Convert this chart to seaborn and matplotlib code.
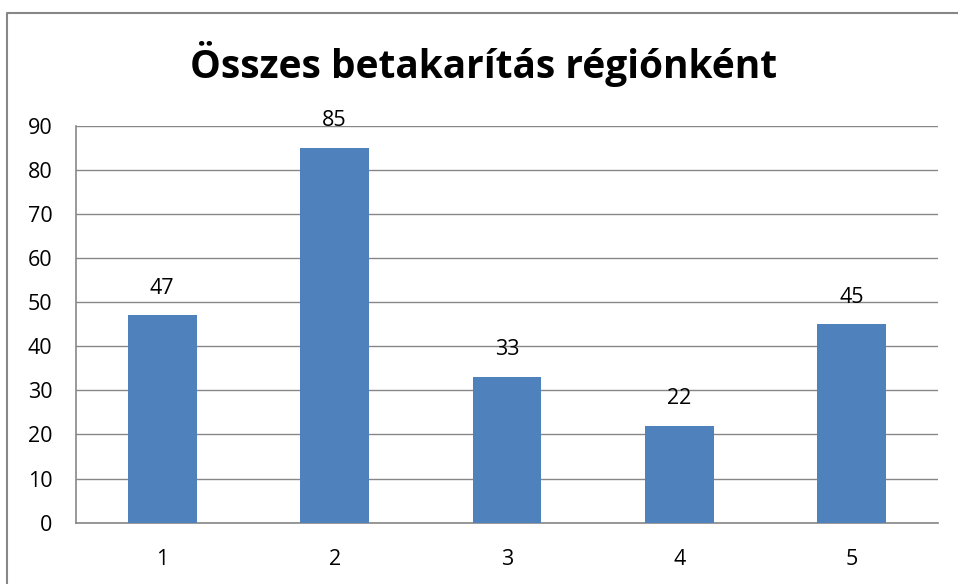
import matplotlib
matplotlib.use("Agg")
import matplotlib.pyplot as plt
import seaborn as sns
import pandas as pd
from matplotlib.lines import Line2D

# %% data
regions = ["1", "2", "3", "4", "5"]
totals = [47, 85, 33, 22, 45]
title = "Összes betakarítás régiónként"

df = pd.DataFrame({"regio": regions, "ossz": totals})

# %% plot
sns.set_style("white")
plt.rcParams["font.family"] = ["Open Sans", "DejaVu Sans"]
plt.rcParams["text.color"] = "black"
plt.rcParams["xtick.labelcolor"] = "black"
plt.rcParams["ytick.labelcolor"] = "black"

grey = "#878787"
fig = plt.figure(figsize=(9.58, 5.84), dpi=100)
ax = fig.add_axes([76 / 958, 1 - 522.7 / 584, 862 / 958, 397 / 584])

sns.barplot(data=df, x="regio", y="ossz", color="#4F81BD", saturation=1,
            width=0.4, linewidth=0, ax=ax, zorder=3)

ax.set_ylim(0, 90)
ax.set_yticks(range(0, 91, 10))
ax.set_xlim(-0.5, 4.5)
ax.yaxis.grid(True, color=grey, linewidth=1.0)
ax.set_axisbelow(True)
for s in ["top", "right"]:
    ax.spines[s].set_visible(False)
for s in ["left", "bottom"]:
    ax.spines[s].set_color(grey)
    ax.spines[s].set_linewidth(1.2)

# category boundaries get the tick marks, labels sit in the middle
ax.set_xticks([i - 0.5 for i in range(6)])
ax.set_xticklabels([])
ax.set_xticks(range(5), minor=True)
ax.set_xticklabels(regions, minor=True)
ax.tick_params(axis="x", which="major", direction="out", length=6, width=1.2, color=grey)
ax.tick_params(axis="x", which="minor", length=0, pad=19, labelsize=15.5, labelcolor="black")
ax.tick_params(axis="y", direction="out", length=6, width=1.2, color=grey, pad=11,
               labelsize=15.5, labelcolor="black")
ax.set_xlabel("")
ax.set_ylabel("")

ax.bar_label(ax.containers[0], labels=[str(v) for v in totals], padding=12,
             fontsize=15.5, color="black")

fig.text(484 / 958, 1 - 78 / 584, title, ha="center", va="baseline",
         fontsize=28, fontweight="bold", color="black")

# chart frame (only top and left edge visible)
fig.add_artist(Line2D([7 / 958, 7 / 958, 1], [0, 1 - 13 / 584, 1 - 13 / 584],
                      transform=fig.transFigure, color=grey, linewidth=1.5))

fig.savefig("out.png", dpi=100)
